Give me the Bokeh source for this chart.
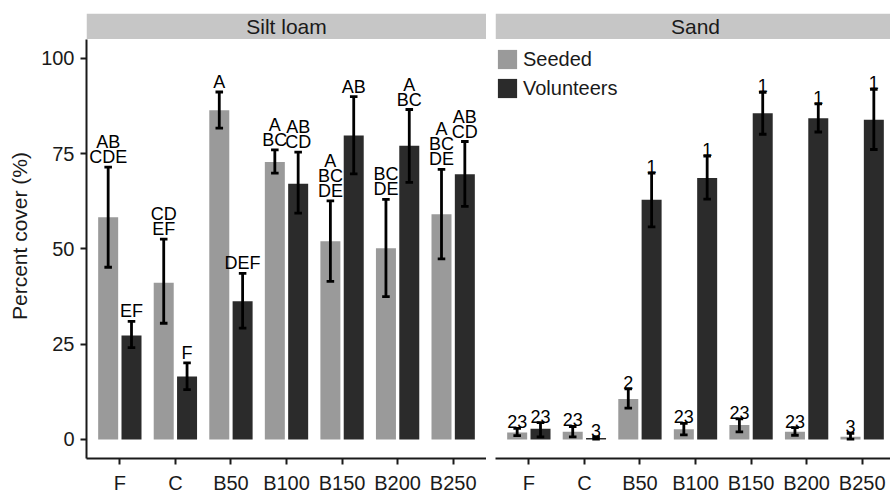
from bokeh.plotting import figure
from bokeh.layouts import row
from bokeh.models import Range1d, FixedTicker, ColumnDataSource, Legend, LegendItem
from bokeh.core.properties import value
from bokeh.embed import file_html
from bokeh.resources import INLINE

# ---------------- data ----------------
categories = ["F", "C", "B50", "B100", "B150", "B200", "B250"]
y_ticks = [0, 25, 50, 75, 100]

silt_seeded = [58.3, 41.1, 86.4, 72.8, 52.0, 50.2, 59.1]
silt_seeded_hi = [71.5, 52.6, 91.2, 76.0, 62.6, 63.0, 70.9]
silt_seeded_lo = [45.2, 30.5, 81.7, 69.9, 41.5, 37.5, 47.4]
silt_seeded_lab = ["AB\nCDE", "CD\nEF", "A", "A\nBC", "A\nBC\nDE", "BC\nDE", "A\nBC\nDE"]

silt_vol = [27.3, 16.5, 36.3, 67.1, 79.8, 77.1, 69.6]
silt_vol_hi = [31.0, 20.1, 43.6, 75.4, 90.0, 86.6, 78.2]
silt_vol_lo = [24.1, 13.1, 29.2, 59.4, 69.7, 67.5, 61.2]
silt_vol_lab = ["EF", "F", "DEF", "AB\nCD", "AB", "A\nBC", "AB\nCD"]

sand_seeded = [1.8, 2.0, 10.6, 2.7, 3.8, 2.0, 0.7]
sand_seeded_hi = [2.9, 3.4, 13.3, 4.2, 5.4, 3.1, 1.6]
sand_seeded_lo = [1.0, 0.7, 8.2, 1.2, 2.0, 1.1, 0.1]
sand_seeded_lab = ["23", "23", "2", "23", "23", "23", "3"]

sand_vol = [2.8, 0.4, 62.9, 68.6, 85.6, 84.3, 83.9]
sand_vol_hi = [4.4, 0.7, 69.9, 74.4, 91.1, 88.1, 91.9]
sand_vol_lo = [0.7, 0.1, 55.8, 63.1, 80.1, 80.7, 76.1]
sand_vol_lab = ["23", "3", "1", "1", "1", "1", "1"]

panel_titles = ["Silt loam", "Sand"]
series_names = ["Seeded", "Volunteers"]

# ---------------- style ----------------
FONT = "Liberation Sans"
SEED_COLOR = "#9a9a9a"
VOL_COLOR = "#2b2b2b"
STRIP_COLOR = "#c6c6c6"
AXIS_COLOR = "#1a1a1a"
DODGE = 0.21
BAR_W = 0.36
CAP = 0.068
ERR_W = 2.8
Y_MIN, Y_TOP = -5, 111.8
STRIP_BOTTOM = 105.1


def make_panel(title, seeded, s_lo, s_hi, s_lab, vol, v_lo, v_hi, v_lab,
               show_y, frame_w, xmax, with_legend):
    pos = list(range(1, len(categories) + 1))
    p = figure(output_backend="svg", toolbar_location=None,
               frame_width=frame_w, frame_height=445,
               x_range=Range1d(0.4, xmax), y_range=Range1d(Y_MIN, Y_TOP))
    p.min_border_top = 13
    p.min_border_bottom = 35
    p.min_border_left = 86 if show_y else 9
    p.min_border_right = 0
    p.outline_line_color = None
    p.xgrid.visible = False
    p.ygrid.visible = False
    p.background_fill_color = "white"
    p.border_fill_color = "white"

    # strip
    p.quad(left=[0.4], right=[7.6], bottom=[STRIP_BOTTOM], top=[Y_TOP],
           fill_color=STRIP_COLOR, line_color=None)
    p.text(x=[4.0], y=[(STRIP_BOTTOM + Y_TOP) / 2], text=[title],
           text_align="center", text_baseline="middle",
           text_font=value(FONT), text_font_size="21px", text_color="#1a1a1a")

    renderers = []
    for vals, lo, hi, lab, off, color in [
        (seeded, s_lo, s_hi, s_lab, -DODGE, SEED_COLOR),
        (vol, v_lo, v_hi, v_lab, DODGE, VOL_COLOR),
    ]:
        xs = [v + off for v in pos]
        src = ColumnDataSource(dict(x=xs, x0=[x - CAP for x in xs], x1=[x + CAP for x in xs],
                                    top=vals, lo=lo, hi=hi, lab=lab))
        r = p.vbar(x="x", top="top", bottom=0, width=BAR_W, source=src,
                   fill_color=color, line_color=None)
        renderers.append(r)
        p.segment(x0="x", y0="lo", x1="x", y1="hi", source=src,
                  line_width=ERR_W, line_color="black")
        p.segment(x0="x0", y0="hi", x1="x1", y1="hi", source=src,
                  line_width=ERR_W, line_color="black")
        p.segment(x0="x0", y0="lo", x1="x1", y1="lo", source=src,
                  line_width=ERR_W, line_color="black")
        p.text(x="x", y="hi", text="lab", source=src, text_align="center",
               text_baseline="bottom", text_font=value(FONT),
               text_font_size="18px", text_line_height=0.75, text_color="black")

    # axes
    p.xaxis.ticker = FixedTicker(ticks=pos)
    p.xaxis.major_label_overrides = {i: c for i, c in zip(pos, categories)}
    p.yaxis.ticker = FixedTicker(ticks=y_ticks)
    p.yaxis.bounds = (Y_MIN, 104.85)
    for ax in p.axis:
        ax.axis_line_width = 2
        ax.axis_line_color = AXIS_COLOR
        ax.major_tick_line_width = 2
        ax.major_tick_line_color = AXIS_COLOR
        ax.major_tick_out = 6
        ax.major_tick_in = 0
        ax.minor_tick_out = 0
        ax.minor_tick_in = 0
        ax.major_label_text_font = FONT
        ax.major_label_text_font_size = "20px"
        ax.major_label_text_color = "#1a1a1a"
        ax.major_label_standoff = 6
    p.xaxis.major_label_standoff = 7
    if show_y:
        p.yaxis.axis_label = "Percent cover (%)"
        p.yaxis.axis_label_text_font = FONT
        p.yaxis.axis_label_text_font_size = "21px"
        p.yaxis.axis_label_text_font_style = "normal"
        p.yaxis.axis_label_text_color = "#1a1a1a"
        p.yaxis.axis_label_standoff = 7
    else:
        p.yaxis.visible = False

    if with_legend:
        legend = Legend(items=[LegendItem(label=series_names[0], renderers=[renderers[0]]),
                               LegendItem(label=series_names[1], renderers=[renderers[1]])],
                        location=(0, 358))
        legend.glyph_width = 24
        legend.glyph_height = 24
        legend.label_height = 24
        legend.spacing = 5
        legend.padding = 0
        legend.margin = 0
        legend.label_standoff = 4
        legend.label_text_font = FONT
        legend.label_text_font_size = "20px"
        legend.label_text_color = "#1a1a1a"
        legend.border_line_alpha = 0
        legend.background_fill_alpha = 0
        p.add_layout(legend)
    return p


p1 = make_panel(panel_titles[0], silt_seeded, silt_seeded_lo, silt_seeded_hi, silt_seeded_lab,
                silt_vol, silt_vol_lo, silt_vol_hi, silt_vol_lab,
                show_y=True, frame_w=400, xmax=7.6, with_legend=False)
p2 = make_panel(panel_titles[1], sand_seeded, sand_seeded_lo, sand_seeded_hi, sand_seeded_lab,
                sand_vol, sand_vol_lo, sand_vol_hi, sand_vol_lab,
                show_y=False, frame_w=395, xmax=0.4 + 395 / 400 * 7.2, with_legend=True)

layout = row(p1, p2)
open("out.html", "w").write(file_html(layout, INLINE))
